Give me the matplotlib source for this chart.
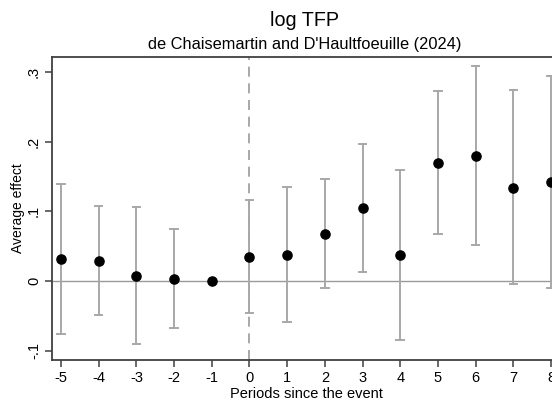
import matplotlib
matplotlib.use("Agg")
import matplotlib.pyplot as plt

plt.rcParams['font.family'] = ['Liberation Sans', 'DejaVu Sans']

periods = [-5, -4, -3, -2, -1, 0, 1, 2, 3, 4, 5, 6, 7, 8]
effect = [0.031, 0.029, 0.007, 0.003, 0.0, 0.035, 0.038, 0.068, 0.105, 0.038, 0.170, 0.179, 0.134, 0.142]
ci_low = [-0.076, -0.049, -0.091, -0.067, None, -0.046, -0.059, -0.010, 0.013, -0.085, 0.068, 0.051, -0.004, -0.010]
ci_high = [0.139, 0.107, 0.106, 0.075, None, 0.116, 0.135, 0.146, 0.197, 0.160, 0.273, 0.309, 0.274, 0.294]
yticks = [-0.1, 0, 0.1, 0.2, 0.3]
ytick_labels = ["-.1", "0", ".1", ".2", ".3"]

fig = plt.figure(figsize=(5.52, 3.99), dpi=100)
W, H = 552, 399
ax = fig.add_axes([52 / W, 1 - 360 / H, (560 - 52) / W, (360 - 57) / H])

ax.axhline(0, color="#9a9a9a", lw=1.0, zorder=1)
ax.axvline(0, color="#9a9a9a", lw=1.2, ls=(0, (6, 4)), zorder=1)

for p, lo, hi in zip(periods, ci_low, ci_high):
    if lo is None:
        continue
    ax.plot([p, p], [lo, hi], color="#a8a8a8", lw=1.4, zorder=2)
    ax.plot([p - 0.1, p + 0.1], [lo, lo], color="#a8a8a8", lw=1.4, zorder=2)
    ax.plot([p - 0.1, p + 0.1], [hi, hi], color="#a8a8a8", lw=1.4, zorder=2)

ax.plot(periods, effect, "o", color="black", ms=6.6, zorder=3)

ax.set_xlim(-5.24, 8.24)
ax.set_ylim(-0.1133, 0.3214)
ax.set_xticks(periods)
ax.set_xticklabels([str(p) for p in periods], fontsize=10.5)
ax.set_yticks(yticks)
ax.set_yticklabels(ytick_labels, fontsize=10.5, rotation=90, va="center")

for s in ["left", "bottom", "top"]:
    ax.spines[s].set_color("#404040")
    ax.spines[s].set_linewidth(1.3)
ax.spines["right"].set_visible(False)
ax.tick_params(color="#404040", length=5, width=1.1, pad=3)

ax.set_xlabel("Periods since the event", fontsize=10.5, labelpad=1)
ax.set_ylabel("Average effect", fontsize=10, labelpad=1)

fig.text(305 / W, 1 - 21 / H, "log TFP", fontsize=14.2, ha="center", va="center")
fig.text(305 / W, 1 - 45 / H, "de Chaisemartin and D'Haultfoeuille (2024)", fontsize=11.8, ha="center", va="center")

fig.savefig("out.png", dpi=100)
